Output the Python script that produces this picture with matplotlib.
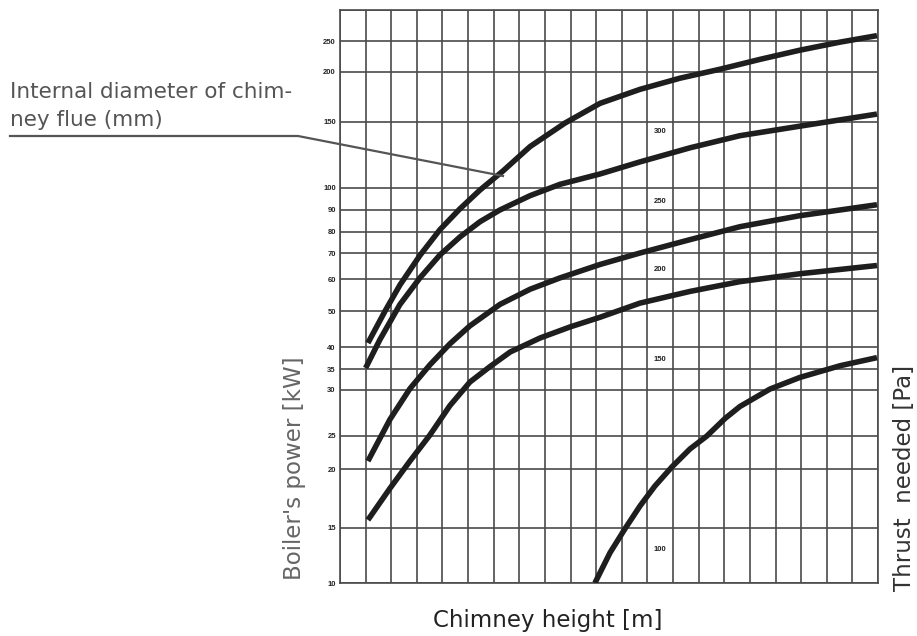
import numpy as np
import matplotlib
matplotlib.use("Agg")
import matplotlib.pyplot as plt
from matplotlib.lines import Line2D

plt.rcParams['font.family'] = ['Liberation Sans', 'DejaVu Sans']

# y grid values (kW) and where they sit on the printed chart (0 = bottom, 573 = top)
y_ticks = [10, 15, 20, 25, 30, 35, 40, 50, 60, 70, 80, 90, 100, 150, 200, 250, 300]
y_tick_pos = [0, 55, 114, 147, 193, 214, 236, 272, 304, 330, 351, 373, 395, 461, 511, 542, 573]
y_tick_labels = ['10', '15', '20', '25', '30', '35', '40', '50', '60', '70', '80', '90',
                 '100', '150', '200', '250', '']

# chimney height columns
x_grid = np.arange(0, 22)

# curves: internal diameter of flue (mm)
d300_x = [1.09, 1.76, 2.34, 3.12, 3.90, 4.68, 5.46, 6.36, 7.42, 8.78, 10.15, 11.71, 13.27, 14.83, 16.39, 17.95, 19.52, 20.96]
d300_y = [41, 50, 58, 69, 81, 90.5, 99, 111, 129, 149, 167, 181, 193, 204, 219, 234, 248, 258]

d250_x = [1.0, 1.56, 2.34, 3.12, 3.90, 4.68, 5.46, 6.24, 7.42, 8.59, 10.15, 11.71, 13.66, 15.61, 17.95, 20.96]
d250_y = [35.2, 41.9, 51.9, 60.4, 69.2, 77.5, 84.5, 90, 96.4, 102.3, 109, 117.4, 128, 137.9, 146.2, 157]

d200_x = [1.09, 1.95, 2.73, 3.51, 4.29, 5.07, 6.24, 7.42, 8.59, 10.15, 11.71, 13.66, 15.61, 17.95, 20.96]
d200_y = [21.1, 26.7, 30.3, 35.9, 40.8, 45.6, 51.9, 56.6, 60.4, 65.4, 70, 76.2, 82.3, 87.3, 92.3]

d150_x = [1.09, 1.95, 2.73, 3.51, 4.29, 5.07, 5.85, 6.64, 7.81, 8.98, 10.15, 11.71, 13.66, 15.61, 17.95, 20.96]
d150_y = [15.6, 18.2, 21.1, 25.1, 28.2, 31.8, 35.5, 38.8, 42.3, 45.3, 48.1, 52.3, 55.9, 59.1, 61.9, 65]

d100_x = [9.95, 10.54, 11.12, 11.71, 12.29, 12.96, 13.66, 14.32, 15.03, 15.61, 16.78, 17.95, 19.52, 20.96]
d100_y = [10, 12.5, 14.9, 16.7, 18.4, 20.3, 22.9, 25.0, 26.8, 28.1, 30.2, 32.9, 35.7, 37.5]

curve_labels = ['300', '250', '200', '150', '100']
curve_label_y = [141.7, 93.6, 63.5, 37, 12.8]
curve_label_x = 12.5

log_t = np.log(y_ticks)


def fwd(v):
    v = np.clip(np.asarray(v, dtype=float), 1e-3, None)
    return np.interp(np.log(v), log_t, y_tick_pos, left=-1, right=600)


def inv(p):
    return np.exp(np.interp(p, y_tick_pos, log_t))


fig = plt.figure(figsize=(9.17, 6.36), dpi=100)
ax = fig.add_axes([340 / 917, 53 / 636, 538 / 917, 573 / 636])
ax.set_yscale('function', functions=(fwd, inv))
ax.set_xlim(0, 21)
ax.set_ylim(10, 300)

gc = '#4a4a4a'
for x in x_grid:
    ax.axvline(x, color=gc, lw=1.2, zorder=1)
for y in y_ticks:
    ax.axhline(y, color=gc, lw=1.2, zorder=1)
for sp in ax.spines.values():
    sp.set_color(gc)
    sp.set_linewidth(1.2)

ax.set_xticks([])
ax.set_yticks(y_ticks)
ax.set_yticklabels(y_tick_labels)
ax.yaxis.set_minor_locator(matplotlib.ticker.NullLocator())
ax.tick_params(axis='y', length=0, pad=3, labelsize=5.5, labelcolor='#222')
for t in ax.get_yticklabels():
    t.set_fontweight('bold')

cc = '#1e1e1e'
for xs, ys in [(d300_x, d300_y), (d250_x, d250_y), (d200_x, d200_y),
               (d150_x, d150_y), (d100_x, d100_y)]:
    ax.plot(xs, ys, color=cc, lw=4, solid_capstyle='butt', solid_joinstyle='round', zorder=3)

for lab, ly in zip(curve_labels, curve_label_y):
    ax.text(curve_label_x, ly, lab, fontsize=5.5, fontweight='bold', color='#222',
            ha='center', va='center', zorder=4)

# leader line and its note
fig.add_artist(Line2D([10 / 917, 298 / 917, 503 / 917],
                      [1 - 136 / 636, 1 - 136 / 636, 1 - 176 / 636],
                      transform=fig.transFigure, color='#555', lw=1.6))
note_font = ['DejaVu Sans']
fig.text(10 / 917, 1 - 92 / 636, 'Internal diameter of chim-', fontsize=15.5,
         family=note_font, color='#555', ha='left', va='center')
fig.text(10 / 917, 1 - 120 / 636, 'ney flue (mm)', fontsize=15.5,
         family=note_font, color='#555', ha='left', va='center')

fig.text(548 / 917, 1 - 620 / 636, 'Chimney height [m]', fontsize=16.5,
         family=note_font, color='#222', ha='center', va='center')
fig.text(295 / 917, 1 - 468 / 636, "Boiler's power [kW]", fontsize=16.5,
         family=note_font, color='#666', ha='center', va='center', rotation=90)
fig.text(904 / 917, 1 - 478 / 636, 'Thrust  needed [Pa]', fontsize=16.5,
         family=note_font, color='#333', ha='center', va='center', rotation=90)

fig.savefig('out.png', dpi=100)
